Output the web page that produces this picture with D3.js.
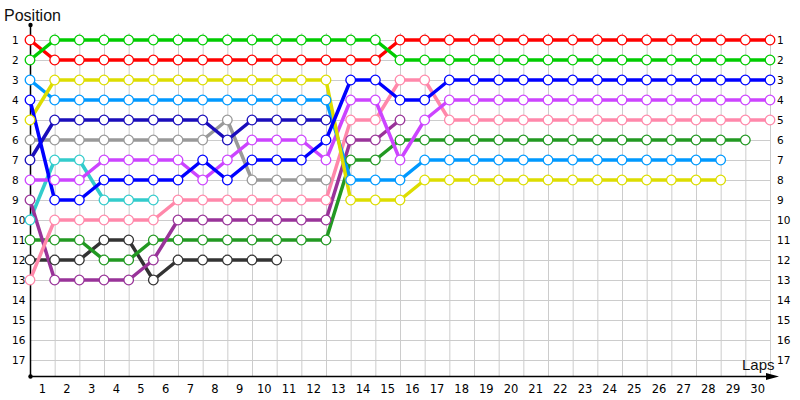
<!DOCTYPE html>
<html><head><meta charset="utf-8">
<script src="https://cdn.jsdelivr.net/npm/d3@7"></script>
<style>body{margin:0;background:#fff}svg{display:block}</style>
</head><body><svg id="c" width="800" height="400"></svg>
<script>
// Lap index 0 = start grid, then laps 1..30
const lapLabels = d3.range(1, 31).map(String);
const positionLabels = d3.range(1, 18).map(String);

const red       = [1,2,2,2,2,2,2,2,2,2,2,2,2,2,2,1,1,1,1,1,1,1,1,1,1,1,1,1,1,1,1];
const green     = [2,1,1,1,1,1,1,1,1,1,1,1,1,1,1,2,2,2,2,2,2,2,2,2,2,2,2,2,2,2,2];
const yellow    = [5,3,3,3,3,3,3,3,3,3,3,3,3,9,9,9,8,8,8,8,8,8,8,8,8,8,8,8,8];
const lightBlue = [3,4,4,4,4,4,4,4,4,4,4,4,4,8,8,8,7,7,7,7,7,7,7,7,7,7,7,7,7];
const navy      = [7,5,5,5,5,5,5,5,6,5,5,5,5];
const blue      = [4,9,9,8,8,8,8,7,8,7,7,7,6,3,3,4,4,3,3,3,3,3,3,3,3,3,3,3,3,3,3];
const gray      = [6,6,6,6,6,6,6,6,5,8,8,8,8];
const magenta   = [8,8,8,7,7,7,7,8,7,6,6,6,7,4,4,7,5,4,4,4,4,4,4,4,4,4,4,4,4,4,4];
const teal      = [10,7,7,9,9,9];
const pink      = [13,10,10,10,10,10,9,9,9,9,9,9,9,5,5,3,3,5,5,5,5,5,5,5,5,5,5,5,5,5,5];
const purple    = [9,13,13,13,13,12,10,10,10,10,10,10,10,6,6,5];
const darkGreen = [11,11,11,12,12,11,11,11,11,11,11,11,11,7,7,6,6,6,6,6,6,6,6,6,6,6,6,6,6,6];
const black     = [12,12,12,11,11,13,12,12,12,12,12];

const seriesList = [
  {values: black, color: "#333333"},
  {values: teal, color: "#33cccc"},
  {values: gray, color: "#999999"},
  {values: navy, color: "#1a0dbb"},
  {values: darkGreen, color: "#229922"},
  {values: purple, color: "#993399"},
  {values: pink, color: "#ff88aa"},
  {values: magenta, color: "#cc44ff"},
  {values: lightBlue, color: "#0099ff"},
  {values: yellow, color: "#dddd00"},
  {values: blue, color: "#0000ff"},
  {values: red, color: "#ff0000"},
  {values: green, color: "#00cc00"}
];

const svg = d3.select("#c");
const x = d3.scaleLinear().domain([0, 30]).range([30, 770]);
const y = d3.scaleLinear().domain([1, 17]).range([40, 360]);
const x0 = 30, yBottom = 376;

const grid = svg.append("g").attr("stroke", "#cccccc").attr("stroke-width", 1);
grid.selectAll("line.v").data(d3.range(1, 31)).join("line")
  .attr("x1", d => x(d) + 0.5).attr("x2", d => x(d) + 0.5)
  .attr("y1", 33).attr("y2", yBottom);
grid.selectAll("line.h").data(d3.range(1, 18)).join("line")
  .attr("x1", x0).attr("x2", x(30))
  .attr("y1", d => y(d) + 0.5).attr("y2", d => y(d) + 0.5);

// axes
const ax = svg.append("g");
ax.append("line").attr("x1", x0 + 0.5).attr("x2", x0 + 0.5).attr("y1", 25).attr("y2", yBottom)
  .attr("stroke", "#000").attr("stroke-width", 1.5);
ax.append("line").attr("x1", x0).attr("x2", 770).attr("y1", yBottom + 0.5).attr("y2", yBottom + 0.5)
  .attr("stroke", "#000").attr("stroke-width", 1.5);
ax.append("circle").attr("cx", x0 + 0.5).attr("cy", 25).attr("r", 2.2).attr("fill", "#000");
ax.append("circle").attr("cx", x0 + 0.5).attr("cy", yBottom + 0.5).attr("r", 2.2).attr("fill", "#000");
ax.append("path").attr("d", `M766,${yBottom - 3} L779,${yBottom + 0.5} L766,${yBottom + 4} Z`).attr("fill", "#000");

// x labels (between grid lines)
svg.append("g").selectAll("text").data(lapLabels).join("text")
  .attr("x", (d, i) => (x(i) + x(i + 1)) / 2)
  .attr("y", 393)
  .attr("text-anchor", "middle")
  .attr("font-family", "DejaVu Sans, Verdana, sans-serif")
  .attr("font-size", 11.5)
  .attr("fill", "#000")
  .text(d => d);

// y labels left and right
svg.append("g").attr("font-family", "DejaVu Sans, Verdana, sans-serif").attr("font-size", 10.5).attr("fill", "#000")
  .selectAll("text").data(positionLabels).join("text")
  .attr("x", 12).attr("y", (d, i) => y(i + 1) + 4)
  .text(d => d);
svg.append("g").attr("font-family", "DejaVu Sans, Verdana, sans-serif").attr("font-size", 10.5).attr("fill", "#000")
  .selectAll("text").data(positionLabels).join("text")
  .attr("x", 777).attr("y", (d, i) => y(i + 1) + 4)
  .text(d => d);

svg.append("text").attr("x", 4).attr("y", 21).attr("font-family", "Liberation Sans, Arial, sans-serif")
  .attr("font-size", 16).attr("fill", "#111").text("Position");
svg.append("text").attr("x", 742).attr("y", 370).attr("font-family", "Liberation Sans, Arial, sans-serif")
  .attr("font-size", 15).attr("fill", "#111").text("Laps");

const line = d3.line().x((d, i) => x(i)).y(d => y(d));
const sg = svg.append("g");
seriesList.forEach(s => {
  sg.append("path").attr("d", line(s.values)).attr("fill", "none")
    .attr("stroke", s.color).attr("stroke-width", 3.5).attr("stroke-linejoin", "round");
});
seriesList.forEach(s => {
  sg.append("g").selectAll("circle").data(s.values).join("circle")
    .attr("cx", (d, i) => x(i)).attr("cy", d => y(d)).attr("r", 4.8)
    .attr("fill", "#fff").attr("stroke", s.color).attr("stroke-width", 1.3);
});
</script></body></html>
